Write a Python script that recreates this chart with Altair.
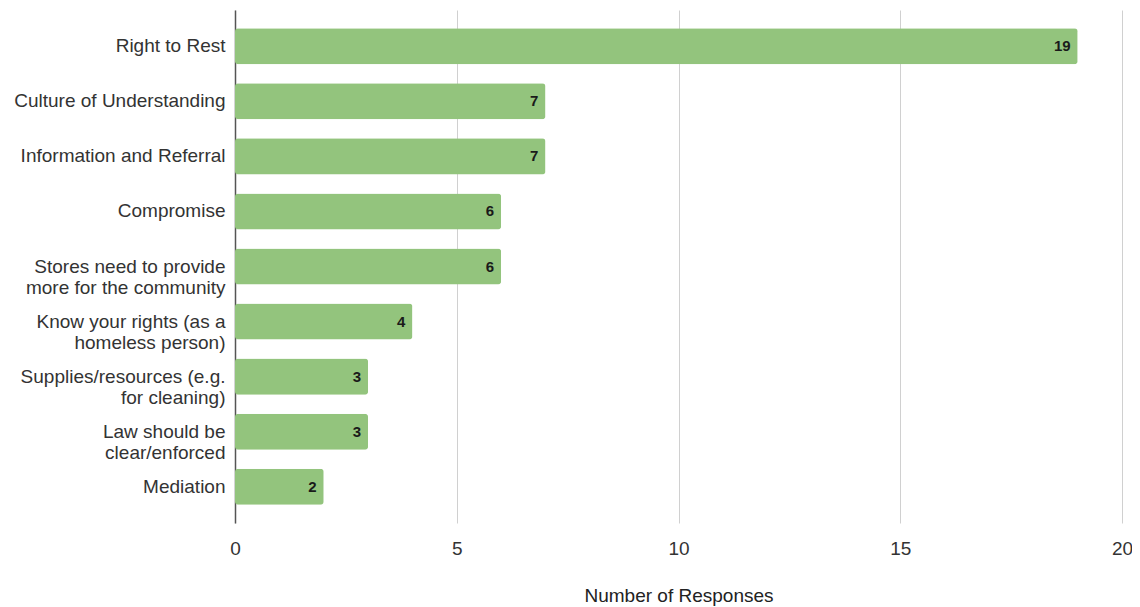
import altair as alt
import pandas as pd

categories = [
    "Right to Rest",
    "Culture of Understanding",
    "Information and Referral",
    "Compromise",
    "Stores need to provide\nmore for the community",
    "Know your rights (as a\nhomeless person)",
    "Supplies/resources (e.g.\nfor cleaning)",
    "Law should be\nclear/enforced",
    "Mediation",
]
responses = [19, 7, 7, 6, 6, 4, 3, 3, 2]

df = pd.DataFrame({"category": categories, "responses": responses})

FONT = "Liberation Sans"

base = alt.Chart(df).encode(
    y=alt.Y(
        "category:N",
        sort=categories,
        title=None,
        scale=alt.Scale(paddingInner=0.345, paddingOuter=0.33),
        axis=alt.Axis(
            labelExpr="split(datum.label, '\\n')",
            labelFont=FONT,
            labelFontSize=19,
            labelColor="#333333",
            labelLineHeight=21,
            labelPadding=10,
            ticks=False,
            domain=True,
            domainColor="#555555",
            domainWidth=1.5,
            grid=False,
            labelLimit=400,
        ),
    ),
    x=alt.X(
        "responses:Q",
        title="Number of Responses",
        scale=alt.Scale(domain=[0, 20], nice=False),
        axis=alt.Axis(
            values=[0, 5, 10, 15, 20],
            labelFont=FONT,
            labelFontSize=19,
            labelColor="#333333",
            labelPadding=16,
            labelFlush=False,
            ticks=False,
            domain=False,
            grid=True,
            gridColor="#d0d0d0",
            gridWidth=1,
            titleFont=FONT,
            titleFontSize=19,
            titleFontWeight="normal",
            titleColor="#222222",
            titlePadding=28,
        ),
    ),
)

bars = base.mark_bar(color="#93c47d", cornerRadius=3)

labels = base.mark_text(
    align="right",
    baseline="middle",
    dx=-7,
    font=FONT,
    fontSize=15,
    fontWeight="bold",
    color="#1a1a1a",
).encode(text="responses:Q")

chart = (
    (bars + labels)
    .properties(
        width=887,
        height=513,
        autosize=alt.AutoSizeParams(type="none"),
        padding={"left": 227, "top": 2, "right": 10, "bottom": 85},
    )
    .configure_view(stroke=None)
)

chart.save("out.html", embed_options={"renderer": "svg", "actions": False})
